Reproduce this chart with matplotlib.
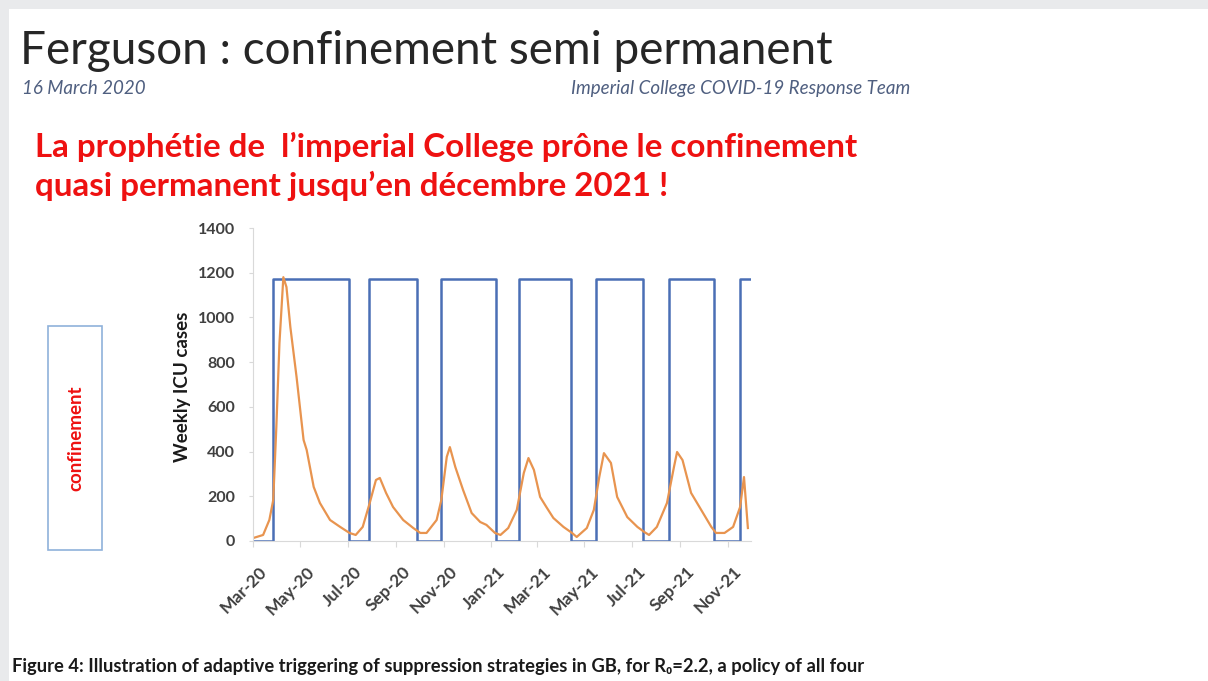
import matplotlib
matplotlib.use("Agg")
import matplotlib.pyplot as plt
import matplotlib.dates as mdates
import matplotlib.transforms as mtransforms
from matplotlib.patches import Rectangle
import numpy as np
import pandas as pd

# weekly ICU cases (orange curve)
icu_dates = [
    "2020-03-01", "2020-03-14", "2020-03-22", "2020-03-27", "2020-03-31", "2020-04-04",
    "2020-04-09", "2020-04-13", "2020-04-18", "2020-04-26", "2020-05-05", "2020-05-09",
    "2020-05-18", "2020-05-26", "2020-06-08", "2020-06-21", "2020-07-03", "2020-07-11",
    "2020-07-20", "2020-07-29", "2020-08-06", "2020-08-11", "2020-08-19", "2020-08-28",
    "2020-09-10", "2020-09-23", "2020-10-02", "2020-10-10", "2020-10-23", "2020-10-29",
    "2020-11-05", "2020-11-09", "2020-11-16", "2020-11-26", "2020-12-07", "2020-12-18",
    "2020-12-26", "2021-01-06", "2021-01-13", "2021-01-23", "2021-02-03", "2021-02-12",
    "2021-02-18", "2021-02-25", "2021-03-05", "2021-03-13", "2021-03-22", "2021-04-04",
    "2021-04-15", "2021-04-21", "2021-05-04", "2021-05-13", "2021-05-20", "2021-05-26",
    "2021-06-04", "2021-06-12", "2021-06-25", "2021-07-08", "2021-07-17", "2021-07-23",
    "2021-08-02", "2021-08-15", "2021-08-24", "2021-08-28", "2021-09-04", "2021-09-15",
    "2021-09-28", "2021-10-11", "2021-10-17", "2021-10-28", "2021-11-08", "2021-11-17",
    "2021-11-22", "2021-11-27",
]
icu_cases = [
    13, 27, 94, 183, 510, 885,
    1180, 1136, 957, 733, 452, 407,
    242, 170, 94, 63, 36, 27,
    63, 170, 273, 282, 215, 152,
    94, 58, 36, 36, 94, 183,
    376, 420, 331, 228, 125, 85,
    72, 36, 27, 58, 139, 304,
    371, 318, 197, 152, 103, 63,
    36, 18, 58, 139, 286, 393,
    349, 197, 107, 63, 40, 27,
    63, 170, 331, 398, 362, 215,
    139, 63, 36, 36, 63, 152,
    286, 58,
]

# suppression on/off (blue square wave)
switch_dates = [
    "2020-03-01", "2020-03-27", "2020-07-02", "2020-07-28", "2020-09-28", "2020-10-28",
    "2021-01-07", "2021-02-06", "2021-04-14", "2021-05-16", "2021-07-15", "2021-08-18",
    "2021-10-14", "2021-11-17", "2021-11-30",
]
switch_level = [0, 1170, 0, 1170, 0, 1170, 0, 1170, 0, 1170, 0, 1170, 0, 1170, 1170]

W, H = 1208, 681
fig = plt.figure(figsize=(W / 100, H / 100), dpi=100, facecolor="#E9EAEC")

def fx(px):
    return px / W

def fy(py):
    return 1 - py / H

# white slide
fig.patches.append(Rectangle((fx(9), 0), 1, fy(9), transform=fig.transFigure,
                             facecolor="white", edgecolor="none", zorder=0))

fig.text(fx(20), fy(64), "Ferguson : confinement semi permanent", fontsize=33,
         family="Lato", color="#262626", va="baseline")
fig.text(fx(22), fy(94), "16 March 2020", fontsize=13.5, style="italic",
         family="Lato", color="#4F5F80", va="baseline")
fig.text(fx(910), fy(94), "Imperial College COVID-19 Response Team", fontsize=13.5,
         style="italic", family="Lato", color="#4F5F80", va="baseline", ha="right")

red = "#EE1111"
fig.text(fx(35), fy(157), "La prophétie de  l\u2019imperial College prône le confinement",
         fontsize=23.9, family="Lato", fontweight="bold", color=red, va="baseline")
fig.text(fx(35), fy(196), "quasi permanent jusqu\u2019en décembre 2021 !",
         fontsize=23.9, family="Lato", fontweight="bold", color=red, va="baseline")

# boxed vertical label
fig.patches.append(Rectangle((fx(48), fy(550)), fx(102) - fx(48), fy(326) - fy(550),
                             transform=fig.transFigure, facecolor="white",
                             edgecolor="#8FB1DA", linewidth=1.2, zorder=1))
fig.text(fx(76), fy(438), "confinement", rotation=90, fontsize=13.5, family="Lato",
         fontweight="bold", color=red, ha="center", va="center")

fig.text(fx(12), fy(672), "Figure 4: Illustration of adaptive triggering of suppression "
         "strategies in GB, for R\u2080=2.2, a policy of all four",
         fontsize=13.2, family=["Lato", "DejaVu Sans"], fontweight="bold",
         color="#1A1A1A", va="baseline")

# chart
ax = fig.add_axes([fx(253), fy(541), fx(751) - fx(253), fy(228) - fy(541)])
ax.set_zorder(3)
ax.set_facecolor("white")
ax.step(pd.to_datetime(switch_dates), switch_level, where="post",
        color="#4A6FB5", linewidth=1.8)
ax.plot(pd.to_datetime(icu_dates), icu_cases, color="#E8944F", linewidth=1.6)

ax.set_xlim(pd.Timestamp("2020-03-01"), pd.Timestamp("2021-12-01"))
ax.set_ylim(0, 1400)
ax.set_yticks(np.arange(0, 1401, 200))
ax.xaxis.set_major_locator(mdates.MonthLocator(bymonth=[1, 3, 5, 7, 9, 11]))
ax.xaxis.set_major_formatter(mdates.DateFormatter("%b-%y"))

for s in ["top", "right"]:
    ax.spines[s].set_visible(False)
ax.spines["left"].set_color("#D9D9D9")
ax.spines["bottom"].set_color("#D9D9D9")
ax.tick_params(axis="y", length=3, color="#D9D9D9", pad=10, labelsize=11.5,
               labelcolor="#404040")
ax.tick_params(axis="x", length=4, color="#D9D9D9", pad=12, labelsize=12.5,
               labelcolor="#404040")
offset = mtransforms.ScaledTranslation(6 / 100, 0, fig.dpi_scale_trans)
for lbl in ax.get_yticklabels() + ax.get_xticklabels():
    lbl.set_family("Lato")
    lbl.set_fontweight("bold")
for lbl in ax.get_xticklabels():
    lbl.set_rotation(45)
    lbl.set_ha("right")
    lbl.set_rotation_mode("anchor")
    lbl.set_transform(lbl.get_transform() + offset)

ax.set_ylabel("Weekly ICU cases", fontsize=13.5, family="Lato", fontweight="bold",
              color="#1A1A1A")
ax.yaxis.set_label_coords(-0.125, 0.492)

fig.savefig("out.png", dpi=100, facecolor=fig.get_facecolor())
